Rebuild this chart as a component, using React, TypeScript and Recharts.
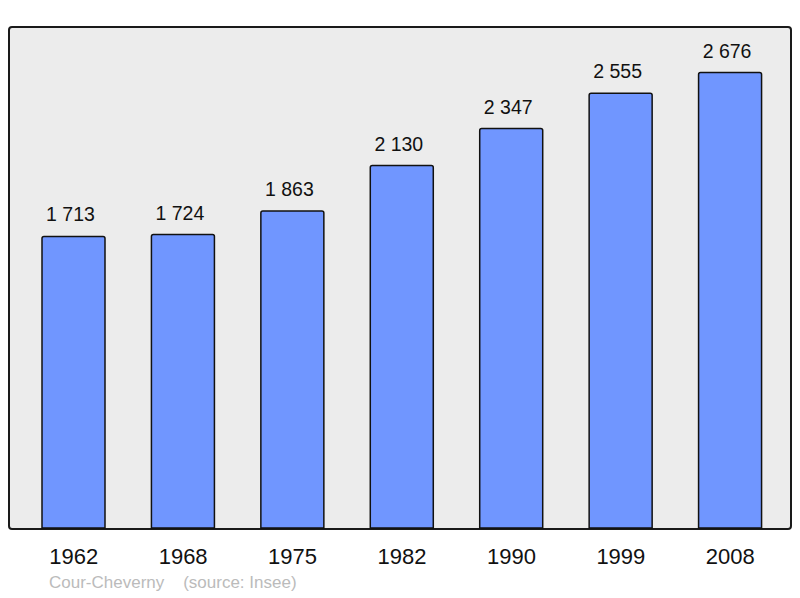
import { BarChart, Bar, XAxis, YAxis, LabelList } from "recharts";

const years = ["1962", "1968", "1975", "1982", "1990", "1999", "2008"];
const population = [1713, 1724, 1863, 2130, 2347, 2555, 2676];
const yMax = 2944;

const data = years.map((year, i) => ({ year, population: population[i] }));

const fmt = (v: number) => {
  const s = String(v);
  return s.length > 3 ? s.slice(0, s.length - 3) + " " + s.slice(-3) : s;
};

const font = "'Liberation Sans', Arial, sans-serif";

export default function App() {
  return (
    <div style={{ position: "absolute", left: 0, top: 0, width: 800, height: 598, background: "#fff", fontFamily: font }}>
      <div
        style={{
          position: "absolute", left: 8, top: 26, width: 784, height: 504,
          boxSizing: "border-box", border: "2px solid #1a1a1a", borderRadius: 4, background: "#ececec",
        }}
      />
      <div style={{ position: "absolute", left: 0, top: 0 }}>
        <BarChart width={800} height={598} data={data} margin={{ top: 27, right: 9, bottom: 40, left: 9 }}>
          <XAxis
            dataKey="year" axisLine={false} tickLine={false} height={30}
            padding={{ left: 10, right: 6 }} tickMargin={14}
            tick={{ fontSize: 22, fill: "#111", fontFamily: font }}
          />
          <YAxis hide domain={[0, yMax]} />
          <Bar dataKey="population" fill="#7096ff" stroke="#111" strokeWidth={1.5}
            barSize={63} radius={[2, 2, 0, 0]} isAnimationActive={false}>
            <LabelList dataKey="population" position="top" offset={15} formatter={(v: any) => fmt(Number(v))}
              dx={-3} style={{ fontSize: 19.5, fill: "#111", fontFamily: font }} />
          </Bar>
        </BarChart>
      </div>
      <div style={{ position: "absolute", left: 49, top: 573, fontSize: 17, color: "#bbb", whiteSpace: "pre", fontFamily: font }}>
        {"Cour-Cheverny    (source: Insee)"}
      </div>
    </div>
  );
}
